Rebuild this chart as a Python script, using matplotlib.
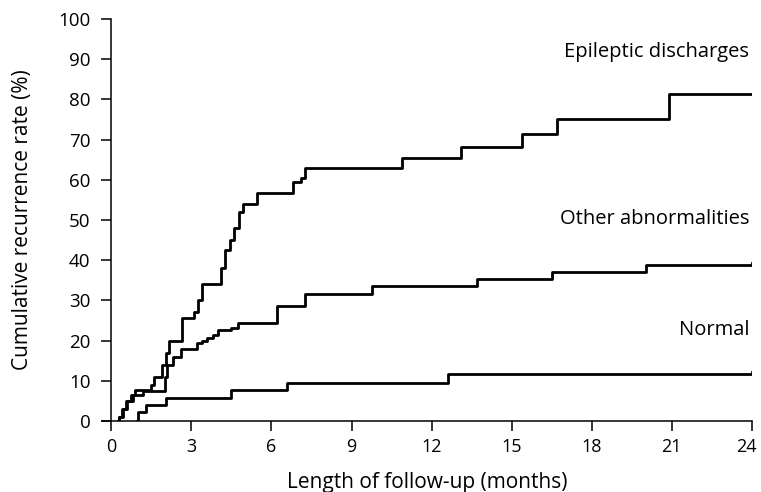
import matplotlib
matplotlib.use("Agg")
import matplotlib.pyplot as plt
import matplotlib.transforms as mtransforms

# step times (months) and cumulative rate (%) after each step
epi_t = [0.25, 0.3, 0.4, 0.55, 0.75, 0.9, 1.5, 1.6, 1.9, 2.05, 2.15, 2.65, 3.1, 3.25, 3.4,
         4.1, 4.25, 4.45, 4.6, 4.8, 4.95, 5.45, 6.8, 7.1, 7.25, 10.9, 13.1, 15.4, 16.7,
         20.9, 24]
epi_v = [0, 1, 3, 5, 6.5, 7.8, 9, 11, 14, 17, 20, 25.5, 27, 30, 34,
         38, 42.5, 45, 48, 52, 54, 56.8, 59.5, 60.5, 63, 65.5, 68.2, 71.5, 75,
         81.3, 81.3]

oth_t = [0.25, 0.3, 0.45, 0.6, 0.8, 1.2, 2.0, 2.1, 2.3, 2.6, 3.2, 3.4, 3.6, 3.8, 4.0,
         4.5, 4.75, 6.2, 7.25, 9.75, 13.7, 16.5, 20.05, 24]
oth_v = [0, 1, 3, 5, 6.5, 7.5, 11, 14, 16, 18, 19.4, 20, 20.7, 21.4, 22.7,
         23.2, 24.3, 28.5, 31.7, 33.7, 35.2, 37, 38.9, 39.3]

nor_t = [0.95, 1.0, 1.3, 2.05, 4.5, 6.6, 12.6, 24]
nor_v = [0, 2.2, 4, 5.8, 7.8, 9.5, 11.7, 12.3]

labels = ["Epileptic discharges", "Other abnormalities", "Normal"]
label_y = [91.8, 50.2, 22.6]

plt.rcParams['font.family'] = ['Open Sans', 'DejaVu Sans']

fig = plt.figure(figsize=(7.61, 4.92), dpi=100)
ax = fig.add_axes([0.134, 0.1443, 0.854, 0.8171])

for t, v in [(epi_t, epi_v), (oth_t, oth_v), (nor_t, nor_v)]:
    ax.step(t, v, where='post', color='black', lw=2.0, solid_joinstyle='round')

for lab, y in zip(labels, label_y):
    ax.text(23.9, y, lab, ha='right', va='center', fontsize=14.5)

ax.set_xlim(-0.35, 24)
ax.set_ylim(0, 100)
ax.spines['left'].set_position(('data', 0))
ax.spines['top'].set_visible(False)
ax.spines['right'].set_visible(False)
for s in ['left', 'bottom']:
    ax.spines[s].set_linewidth(1.1)
ax.set_xticks(range(0, 25, 3))
ax.set_yticks(range(0, 101, 10))
ax.tick_params(direction='out', length=7, width=1.1, labelsize=13.5)
ax.tick_params(axis='x', labelsize=13, pad=5)
ax.tick_params(axis='y', pad=8)
ax.set_xlabel("Length of follow-up (months)", fontsize=15)
ax.set_ylabel("Cumulative recurrence rate (%)", fontsize=15)
ax.xaxis.set_label_coords(0.5, -0.128)
ax.yaxis.set_label_coords(-0.106, 0.5)

# keep the "24" label inside the figure edge
fig.canvas.draw()
last = ax.xaxis.get_major_ticks()[-1].label1
last.set_ha('right')
last.set_transform(last.get_transform() +
                   mtransforms.ScaledTranslation(5 / 100, 0, fig.dpi_scale_trans))

fig.savefig("out.png", dpi=100)
